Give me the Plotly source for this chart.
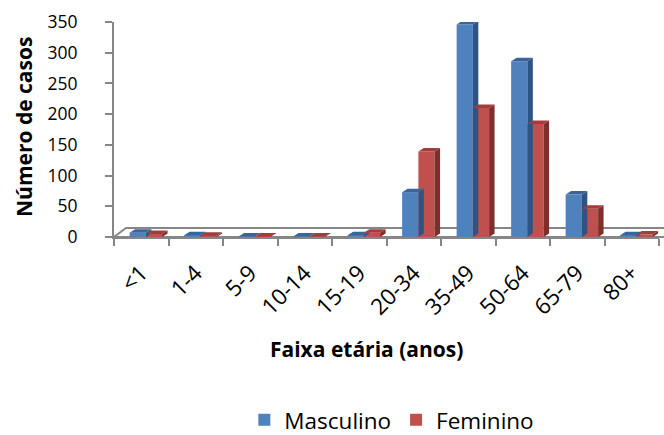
import plotly.graph_objects as go

categories = ["<1", "1-4", "5-9", "10-14", "15-19", "20-34", "35-49", "50-64", "65-79", "80+"]
masculino = [7, 3, 1, 1, 3, 73, 346, 286, 69, 3]
feminino = [5, 2, 1, 1, 7, 139, 210, 184, 46, 4]

FONT = "Open Sans"
AXIS = "#868686"
BAR_W = 0.298
DX = 0.10      # depth shift (category units)
DZ = 5.7       # depth shift (value units)

series = [
    ("Masculino", masculino, -0.213, "#4F81BD", "#3A659B", "#2F5383"),
    ("Feminino", feminino, 0.085, "#C0504D", "#A13E3B", "#7F2E2C"),
]

fig = go.Figure()

# 3D faces (drawn beneath the front faces)
for name, vals, off, front, top, side in series:
    sx, sy, tx, ty = [], [], [], []
    for i, v in enumerate(vals):
        x0 = i + off
        x1 = x0 + BAR_W
        sx += [x1, x1 + DX, x1 + DX, x1, x1, None]
        sy += [0, DZ, v + DZ, v, 0, None]
        tx += [x0, x0 + DX, x1 + DX, x1, x0, None]
        ty += [v, v + DZ, v + DZ, v, v, None]
    fig.add_trace(go.Scatter(x=sx, y=sy, fill="toself", fillcolor=side, mode="lines",
                             line=dict(width=0, color=side), showlegend=False, hoverinfo="skip"))
    fig.add_trace(go.Scatter(x=tx, y=ty, fill="toself", fillcolor=top, mode="lines",
                             line=dict(width=0, color=top), showlegend=False, hoverinfo="skip"))

for name, vals, off, front, top, side in series:
    fig.add_trace(go.Bar(x=list(range(len(categories))), y=vals, name=name,
                         width=BAR_W, offset=off, marker=dict(color=front, line=dict(width=0))))

fig.update_layout(
    width=664, height=435,
    margin=dict(l=114, r=5, t=22, b=198, autoexpand=False),
    paper_bgcolor="white", plot_bgcolor="white",
    barmode="overlay",
    font=dict(family=FONT, color="black", size=17.5),
    showlegend=True,
    legend=dict(orientation="h", xref="container", yref="container",
                x=0.368, xanchor="left", y=0.034, yanchor="middle",
                font=dict(size=22.5, family=FONT), bgcolor="rgba(0,0,0,0)", traceorder="normal"),
    xaxis=dict(range=[-0.5, 9.5], tickmode="array", tickvals=list(range(len(categories))),
               ticktext=categories, tickangle=-45, ticks="", showgrid=False, zeroline=False,
               showline=True, linecolor=AXIS, linewidth=2, ticklabelstandoff=12,
               tickfont=dict(size=22.5), automargin=False,
               minor=dict(tickmode="array", tickvals=[i - 0.5 for i in range(len(categories) + 1)],
                          ticks="outside", ticklen=7, tickwidth=2, tickcolor=AXIS, showgrid=False)),
    yaxis=dict(range=[0, 350], tickmode="linear", tick0=0, dtick=50, ticks="outside",
               ticklen=7, tickwidth=2, tickcolor=AXIS, showgrid=False, zeroline=False,
               showline=True, linecolor=AXIS, linewidth=2, ticklabelstandoff=24,
               tickfont=dict(size=17.5), automargin=False),
    shapes=[dict(type="path", xref="paper", yref="paper", layer="below",
                 path="M 0 0 L 0.022 0.0417 L 1.1 0.0417 L 1.078 0 Z",
                 line=dict(color=AXIS, width=2), fillcolor="white")],
    annotations=[
        dict(text="<b>Número de casos</b>", xref="paper", yref="paper", x=-0.165, y=0.512,
             xanchor="center", yanchor="middle",
             showarrow=False, textangle=-90, font=dict(size=21, family=FONT)),
        dict(text="<b>Faixa etária (anos)</b>", xref="paper", yref="paper", x=0.464, y=-0.523,
             xanchor="center", yanchor="middle",
             showarrow=False, font=dict(size=21, family=FONT)),
    ],
)

fig.write_html("out.html", config={"displayModeBar": False},
               post_script="document.body.style.margin='0';")
